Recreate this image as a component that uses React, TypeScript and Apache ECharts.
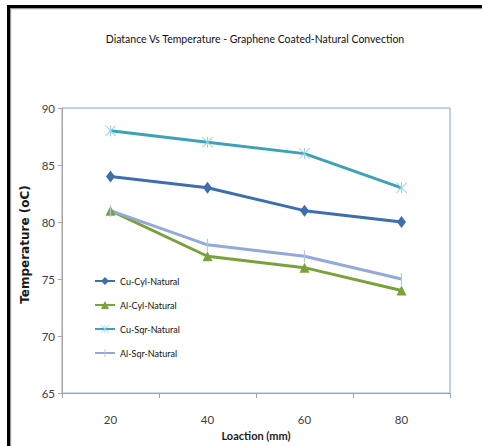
import React, { useEffect, useRef } from "react";
import * as echarts from "echarts";

const categories = ["20", "40", "60", "80"];
const cuCyl = [84, 83, 81, 80];
const alCyl = [81, 77, 76, 74];
const cuSqr = [88, 87, 86, 83];
const alSqr = [81, 78, 77, 75];
const seriesNames = ["Cu-Cyl-Natural", "Al-Cyl-Natural", "Cu-Sqr-Natural", "Al-Sqr-Natural"];

const NARROW = "Lato, 'Liberation Sans Narrow', sans-serif";

const asterisk =
  "path://M4.55,0L5.45,0L5.45,10L4.55,10Z M0,0.65L0.65,0L10,9.35L9.35,10Z M10,0.65L9.35,0L0,9.35L0.65,10Z";
const plusBar = "path://M4.45,0L5.55,0L5.55,10L4.45,10Z M0,5L0.001,5L0,5.001Z M10,5L9.999,5L10,5.001Z";

export default function App() {
  const ref = useRef<HTMLDivElement>(null);
  useEffect(() => {
    document.body.style.margin = "0";
    const chart = echarts.init(ref.current!, null, { renderer: "svg", width: 482, height: 446 });
    chart.setOption({
      animation: false,
      backgroundColor: "#ffffff",
      title: {
        text: "Diatance Vs Temperature - Graphene Coated-Natural Convection",
        left: 250,
        top: 28,
        textAlign: "center",
        textStyle: { fontFamily: NARROW, fontSize: 10.5, fontWeight: "normal", color: "#111111" },
      },
      graphic: [
        { type: "rect", shape: { x: 7, y: 5, width: 475, height: 3 }, style: { fill: "#000" } },
        { type: "rect", shape: { x: 10, y: 8, width: 472, height: 1.2 }, style: { fill: "#9a9a9a" } },
        { type: "rect", shape: { x: 7, y: 5, width: 3, height: 441 }, style: { fill: "#000" } },
        { type: "rect", shape: { x: 10, y: 8, width: 1.2, height: 438 }, style: { fill: "#9a9a9a" } },
      ],
      grid: {
        left: 62,
        top: 108,
        right: 32,
        bottom: 51,
        show: true,
        borderColor: "#7fa6d6",
        borderWidth: 1,
      },
      legend: {
        orient: "vertical",
        left: 89,
        top: 270,
        itemWidth: 20,
        itemHeight: 10,
        itemGap: 12,
        data: seriesNames,
        textStyle: { fontFamily: NARROW, fontSize: 9, color: "#111111", lineHeight: 12 },
      },
      xAxis: {
        type: "category",
        data: categories,
        boundaryGap: true,
        name: "Loaction (mm)",
        nameLocation: "middle",
        nameGap: 36,
        nameTextStyle: { fontFamily: NARROW, fontSize: 11, fontWeight: "bold", color: "#1a1a1a" },
        axisLine: { lineStyle: { color: "#a6a6a6", width: 1 } },
        axisTick: { show: true, length: 5, lineStyle: { color: "#a6a6a6" } },
        axisLabel: { margin: 20, fontFamily: NARROW, fontSize: 11.5, color: "#404040" },
        splitLine: { show: false },
      },
      yAxis: {
        type: "value",
        min: 65,
        max: 90,
        interval: 5,
        name: "Temperature (oC)",
        nameLocation: "middle",
        nameRotate: 90,
        nameGap: 29,
        nameTextStyle: {
          fontFamily: "'DejaVu Sans', sans-serif",
          fontSize: 12,
          fontWeight: "bold",
          color: "#1a1a1a",
          padding: [0, 0, 0, 12],
        },
        axisLine: { show: true, lineStyle: { color: "#a6a6a6", width: 1 } },
        axisTick: { show: true, length: 4, lineStyle: { color: "#a6a6a6" } },
        axisLabel: { margin: 7, fontFamily: NARROW, fontSize: 11.5, color: "#404040" },
        splitLine: { show: false },
      },
      series: [
        {
          name: seriesNames[0],
          type: "line",
          data: cuCyl,
          symbol: "diamond",
          symbolSize: [9, 12],
          itemStyle: { color: "#3f6eae" },
          lineStyle: { color: "#3f6eae", width: 3 },
        },
        {
          name: seriesNames[1],
          type: "line",
          data: alCyl,
          symbol: "triangle",
          symbolSize: [10, 10],
          itemStyle: { color: "#7aa23a" },
          lineStyle: { color: "#7aa23a", width: 3 },
        },
        {
          name: seriesNames[2],
          type: "line",
          data: cuSqr,
          symbol: asterisk,
          symbolSize: [11, 11],
          itemStyle: { color: "#9bd3e6" },
          lineStyle: { color: "#3ea2b7", width: 3 },
        },
        {
          name: seriesNames[3],
          type: "line",
          data: alSqr,
          symbol: plusBar,
          symbolSize: [11, 12],
          itemStyle: { color: "#b3c6e6" },
          lineStyle: { color: "#93aad9", width: 3 },
        },
      ],
    });
    return () => chart.dispose();
  }, []);
  return <div ref={ref} style={{ width: 482, height: 446 }} />;
}
